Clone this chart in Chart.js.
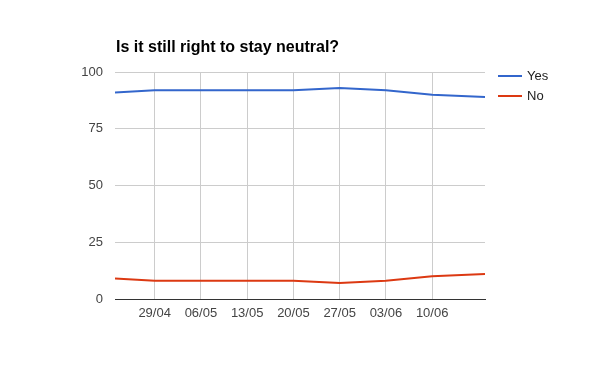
<!DOCTYPE html>
<html><head><meta charset="utf-8">
<script src="https://cdn.jsdelivr.net/npm/chart.js@4.4.0/dist/chart.umd.min.js"></script>
<style>html,body{margin:0;padding:0;background:#fff}#wrap{width:600px;height:371px}</style>
</head><body><div id="wrap"><canvas id="c" width="600" height="371"></canvas></div>
<script>
const titleText = "Is it still right to stay neutral?";
const dates = ["2018-04-23","2018-04-29","2018-05-06","2018-05-13","2018-05-20","2018-05-27","2018-06-03","2018-06-10","2018-06-18"];
const yesValues = [91, 92, 92, 92, 92, 93, 92, 90, 89];
const noValues = [9, 8, 8, 8, 8, 7, 8, 10, 11];
const tickDates = ["2018-04-29","2018-05-06","2018-05-13","2018-05-20","2018-05-27","2018-06-03","2018-06-10"];
const tickLabels = ["29/04","06/05","13/05","20/05","27/05","03/06","10/06"];
const yTicks = [0, 25, 50, 75, 100];
const seriesNames = ["Yes", "No"];
const seriesColors = ["#3366cc", "#dc3912"];

const day = s => Date.parse(s + "T00:00:00Z") / 86400000;
const xs = dates.map(day);
const tickXs = tickDates.map(day);
const FONT = "Arial, 'Liberation Sans', sans-serif";

const overlay = {
  id: 'overlay',
  afterDraw(chart) {
    const ctx = chart.ctx, ca = chart.chartArea;
    ctx.save();
    ctx.fillStyle = '#000';
    ctx.font = "bold 16px " + FONT;
    ctx.textBaseline = 'alphabetic';
    ctx.textAlign = 'left';
    ctx.fillText(titleText, ca.left + 1, 52);
    ctx.font = "13px " + FONT;
    ctx.textBaseline = 'middle';
    chart.data.datasets.forEach((ds, i) => {
      const y = 76 + i * 20;
      ctx.strokeStyle = ds.borderColor;
      ctx.lineWidth = 2;
      ctx.beginPath(); ctx.moveTo(498, y); ctx.lineTo(522, y); ctx.stroke();
      ctx.fillStyle = '#222';
      ctx.fillText(ds.label, 527, y);
    });
    ctx.restore();
  }
};

new Chart(document.getElementById('c'), {
  type: 'line',
  data: {
    datasets: [
      { label: seriesNames[0], data: xs.map((x, i) => ({x, y: yesValues[i]})), borderColor: seriesColors[0], backgroundColor: seriesColors[0] },
      { label: seriesNames[1], data: xs.map((x, i) => ({x, y: noValues[i]})), borderColor: seriesColors[1], backgroundColor: seriesColors[1] }
    ]
  },
  options: {
    responsive: false,
    animation: false,
    layout: { padding: { top: 72, right: 115, left: 0, bottom: 0 } },
    elements: { point: { radius: 0 }, line: { borderWidth: 2, tension: 0 } },
    plugins: { legend: { display: false }, title: { display: false }, tooltip: { enabled: false } },
    scales: {
      x: {
        type: 'linear',
        min: xs[0], max: xs[xs.length - 1],
        afterBuildTicks: s => { s.ticks = tickXs.map(v => ({ value: v })); },
        afterFit: s => { s.height = 72; },
        ticks: {
          autoSkip: false, maxRotation: 0, padding: 7, color: '#444',
          font: { family: FONT, size: 13 },
          callback: (v) => { const i = tickXs.indexOf(v); return i >= 0 ? tickLabels[i] : ''; }
        },
        grid: { color: '#cccccc', drawTicks: false, lineWidth: 1 },
        border: { display: true, color: '#333333', width: 1 }
      },
      y: {
        min: 0, max: 100,
        afterBuildTicks: s => { s.ticks = yTicks.map(v => ({ value: v })); },
        afterFit: s => { s.width = 115; },
        ticks: { padding: 12, color: '#444', font: { family: FONT, size: 13 } },
        grid: { color: ctx => ctx.tick && ctx.tick.value === 0 ? '#333333' : '#cccccc', drawTicks: false, lineWidth: 1 },
        border: { display: false }
      }
    }
  },
  plugins: [overlay]
});
</script></body></html>
